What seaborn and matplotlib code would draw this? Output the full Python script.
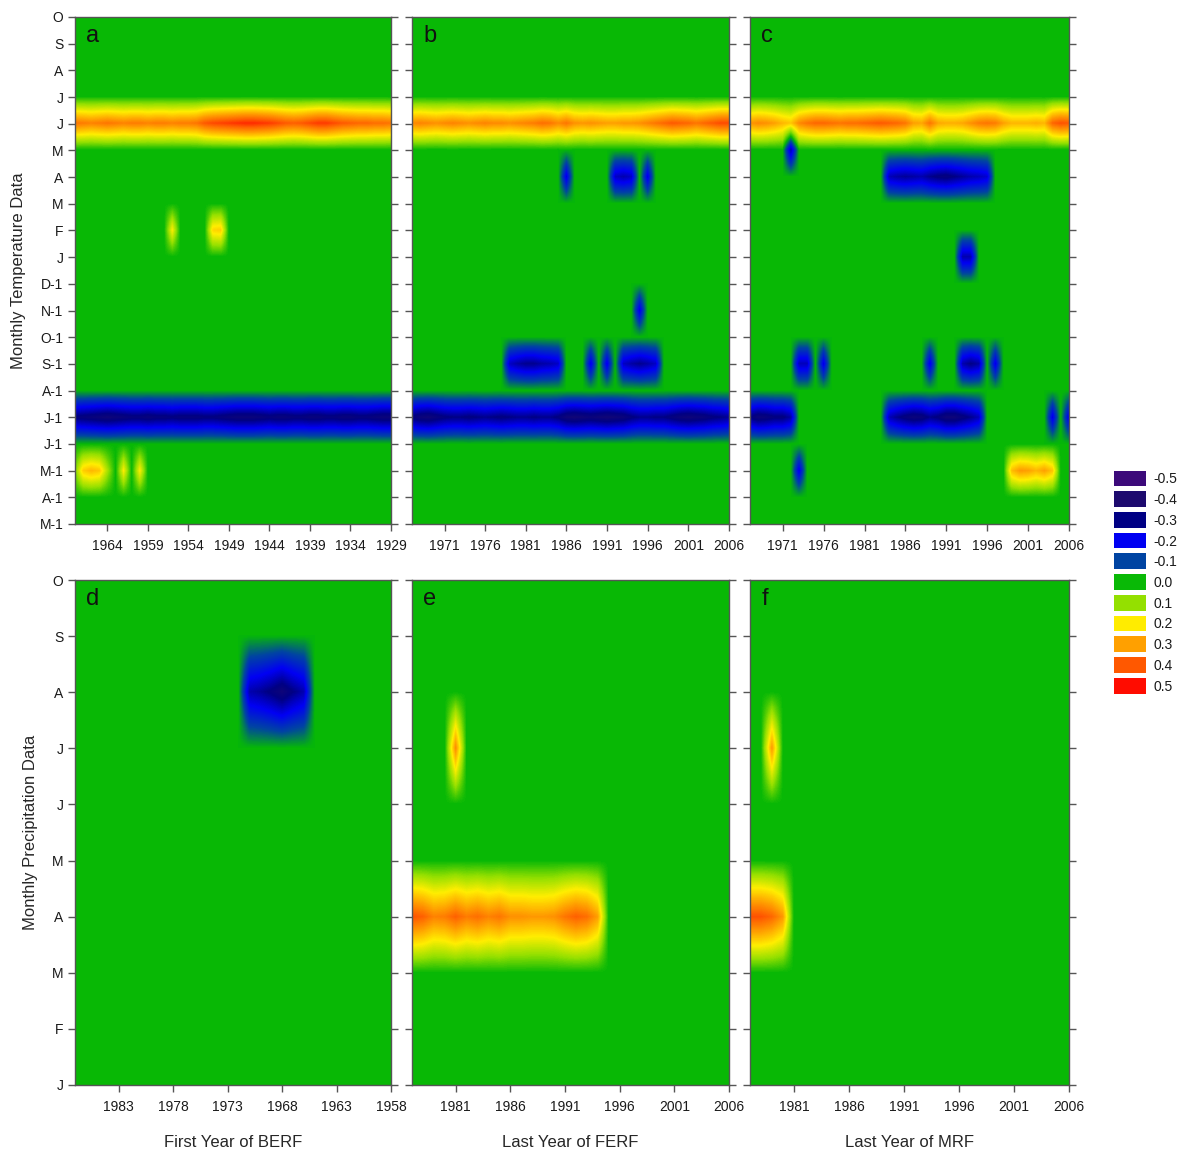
import numpy as np
import matplotlib
matplotlib.use("Agg")
import matplotlib.pyplot as plt
import seaborn as sns

# ---------------------------------------------------------------- labels
TEMP_MONTHS = ["M-1", "A-1", "M-1", "J-1", "J-1", "A-1", "S-1", "O-1", "N-1", "D-1",
               "J", "F", "M", "A", "M", "J", "J", "A", "S", "O"]
PREC_MONTHS = ["J", "F", "M", "A", "M", "J", "J", "A", "S", "O"]

LEVELS = [-0.5, -0.4, -0.3, -0.2, -0.1, 0.0, 0.1, 0.2, 0.3, 0.4, 0.5]
LEVEL_COLORS = ["#3c0a7a", "#1c0a6e", "#000084", "#0000f4", "#0044a2", "#06b806",
                "#94e000", "#ffee00", "#ffa000", "#ff5a00", "#ff0c00"]

# ---------------------------------------------------------------- panel a (first year of BERF)
A_YEARS = (1929, 1968)
A_JUN = [0.36, 0.37, 0.37, 0.38, 0.38, 0.39, 0.40, 0.42, 0.44, 0.44,
         0.42, 0.40, 0.39, 0.40, 0.42, 0.44, 0.45, 0.46, 0.46, 0.45,
         0.44, 0.43, 0.42, 0.40, 0.36, 0.35, 0.35, 0.34, 0.35, 0.35,
         0.34, 0.35, 0.35, 0.34, 0.35, 0.36, 0.35, 0.34, 0.35, 0.36]
A_JUL1 = [-0.34, -0.34, -0.33, -0.32, -0.32, -0.33, -0.33, -0.32, -0.32, -0.33,
          -0.33, -0.32, -0.32, -0.33, -0.33, -0.32, -0.33, -0.34, -0.34, -0.34,
          -0.33, -0.32, -0.31, -0.31, -0.32, -0.32, -0.32, -0.31, -0.32, -0.32,
          -0.33, -0.32, -0.32, -0.33, -0.34, -0.35, -0.34, -0.33, -0.32, -0.31]
A_FEB = [(1950, [0.24, 0.23]), (1956, [0.20])]
A_MAR1 = [(1960, [0.20]), (1962, [0.20]), (1964, [0.12, 0.25, 0.27, 0.24, 0.08])]

# ---------------------------------------------------------------- panel b (last year of FERF)
B_YEARS = (1967, 2006)
B_JUN = [0.33, 0.34, 0.33, 0.32, 0.33, 0.34, 0.33, 0.32, 0.33, 0.34,
         0.33, 0.33, 0.32, 0.33, 0.34, 0.35, 0.37, 0.36, 0.33, 0.36,
         0.32, 0.31, 0.32, 0.31, 0.30, 0.30, 0.31, 0.31, 0.32, 0.34,
         0.36, 0.38, 0.40, 0.39, 0.38, 0.36, 0.38, 0.40, 0.42, 0.42]
B_JUL1 = [-0.31, -0.34, -0.35, -0.33, -0.31, -0.30, -0.30, -0.31, -0.30, -0.29,
          -0.30, -0.31, -0.30, -0.29, -0.29, -0.30, -0.29, -0.29, -0.31, -0.35,
          -0.36, -0.35, -0.34, -0.35, -0.36, -0.35, -0.34, -0.31, -0.29, -0.29,
          -0.30, -0.30, -0.32, -0.34, -0.35, -0.34, -0.33, -0.31, -0.30, -0.28]
B_APR = [(1986, [-0.22]), (1992, [-0.24, -0.26, -0.24]), (1996, [-0.22])]
B_NOV1 = [(1995, [-0.22])]
B_SEP1 = [(1979, [-0.24, -0.27, -0.29, -0.29, -0.27, -0.26, -0.24]),
          (1989, [-0.22]), (1991, [-0.22]),
          (1993, [-0.24, -0.27, -0.29, -0.27, -0.24])]

# ---------------------------------------------------------------- panel c (last year of MRF)
C_YEARS = (1967, 2006)
C_JUN = [0.31, 0.33, 0.32, 0.30, 0.27, 0.25, 0.33, 0.36, 0.38, 0.38,
         0.37, 0.36, 0.37, 0.37, 0.38, 0.39, 0.40, 0.39, 0.38, 0.36,
         0.30, 0.29, 0.36, 0.29, 0.28, 0.28, 0.29, 0.32, 0.35, 0.36,
         0.35, 0.30, 0.27, 0.27, 0.27, 0.28, 0.27, 0.38, 0.41, 0.40]
C_MAY = [(1972, [-0.26])]
C_APR = [(1984, [-0.25, -0.27, -0.28, -0.27, -0.26, -0.29, -0.31, -0.32,
                 -0.30, -0.28, -0.26, -0.25, -0.23])]
C_JAN = [(1993, [-0.26, -0.26])]
C_SEP1 = [(1973, [-0.25, -0.25]), (1976, [-0.22]), (1989, [-0.22]),
          (1993, [-0.26, -0.30, -0.27]), (1997, [-0.22])]
C_JUL1 = [(1967, [-0.30, -0.34, -0.33, -0.31, -0.31, -0.27]),
          (1984, [-0.25, -0.29, -0.32, -0.34, -0.33, -0.29, -0.31, -0.35,
                  -0.35, -0.32, -0.29, -0.25]),
          (2004, [-0.22]), (2006, [-0.22])]
C_MAR1 = [(1973, [-0.22]), (1999, [0.26, 0.31, 0.30, 0.27, 0.30, 0.25])]

# ---------------------------------------------------------------- panel d (first year of BERF, precipitation)
D_YEARS = (1958, 1987)
D_AUG = [(1966, [-0.26, -0.30, -0.35, -0.31, -0.28, -0.26])]

# ---------------------------------------------------------------- panel e (last year of FERF, precipitation)
E_YEARS = (1977, 2006)
E_JUL = [(1981, [0.33])]
E_APR = [(1977, [0.41, 0.39, 0.34, 0.35, 0.39, 0.35, 0.37, 0.34, 0.36, 0.32,
                 0.32, 0.31, 0.31, 0.32, 0.36, 0.39, 0.37, 0.30])]

# ---------------------------------------------------------------- panel f (last year of MRF, precipitation)
F_YEARS = (1977, 2006)
F_JUL = [(1979, [0.31])]
F_APR = [(1977, [0.41, 0.41, 0.38, 0.31])]

# ---------------------------------------------------------------- style
sns.set_style("ticks")
plt.rcParams["font.family"] = ["Liberation Sans", "DejaVu Sans"]
plt.rcParams["axes.edgecolor"] = "#555555"
plt.rcParams["xtick.color"] = "#555555"
plt.rcParams["ytick.color"] = "#555555"
plt.rcParams["xtick.labelcolor"] = "#1a1a1a"
plt.rcParams["ytick.labelcolor"] = "#1a1a1a"

cmap = sns.blend_palette(LEVEL_COLORS, as_cmap=True)

W, H = 1179, 1154
fig = plt.figure(figsize=(W / 100, H / 100), dpi=100)


def rect(x0, x1, y0, y1):
    return [x0 / W, 1 - y1 / H, (x1 - x0) / W, (y1 - y0) / H]


def draw_field(ax, years, n_rows, rows, reverse, xticks, letter, ylabels=None):
    first, last = years
    z = np.zeros((n_rows, last - first + 1))
    for r, segs in rows.items():
        for start, vals in segs:
            i = start - first
            z[r, i:i + len(vals)] = vals
    ax.imshow(z, cmap=cmap, vmin=-0.5, vmax=0.5, origin="lower", aspect="auto",
              interpolation="bilinear", interpolation_stage="data",
              extent=(first - 0.5, last + 0.5, -0.5, n_rows - 0.5))
    ax.set_xlim((last, first) if reverse else (first, last))
    ax.set_ylim(0, n_rows - 1)
    ax.set_yticks(range(n_rows))
    if ylabels is not None:
        ax.set_yticklabels(ylabels, fontsize=10)
    else:
        ax.set_yticklabels([])
    ax.set_xticks(xticks)
    ax.set_xticklabels([str(x) for x in xticks], fontsize=10)
    ax.tick_params(axis="y", left=True, right=True, direction="out", length=5, width=1)
    ax.tick_params(axis="x", bottom=True, top=False, direction="out", length=5, width=1,
                   pad=6)
    for s in ax.spines.values():
        s.set_visible(True)
        s.set_linewidth(1.0)
    ax.text(0.035, 0.985, letter, transform=ax.transAxes, ha="left", va="top",
            fontsize=17, color="#111111")


# top row: temperature
ax_a = fig.add_axes(rect(75, 391, 17, 524))
draw_field(ax_a, A_YEARS, 20, {15: [(1929, A_JUN)], 4: [(1929, A_JUL1)], 11: A_FEB, 2: A_MAR1},
           True, list(range(1964, 1928, -5)), "a", TEMP_MONTHS)
ax_a.set_ylabel("Monthly Temperature Data", fontsize=12, labelpad=10)

ax_b = fig.add_axes(rect(412, 729, 17, 524))
draw_field(ax_b, B_YEARS, 20, {15: [(1967, B_JUN)], 4: [(1967, B_JUL1)], 13: B_APR,
                               8: B_NOV1, 6: B_SEP1},
           False, list(range(1971, 2007, 5)), "b")

ax_c = fig.add_axes(rect(750, 1069, 17, 524))
draw_field(ax_c, C_YEARS, 20, {15: [(1967, C_JUN)], 14: C_MAY, 13: C_APR, 10: C_JAN,
                               6: C_SEP1, 4: C_JUL1, 2: C_MAR1},
           False, list(range(1971, 2007, 5)), "c")

# bottom row: precipitation
ax_d = fig.add_axes(rect(75, 391, 580, 1085))
draw_field(ax_d, D_YEARS, 10, {7: D_AUG}, True, list(range(1983, 1957, -5)), "d", PREC_MONTHS)
ax_d.set_ylabel("Monthly Precipitation Data", fontsize=12, labelpad=10)
ax_d.set_xlabel("First Year of BERF", fontsize=12, labelpad=15)

ax_e = fig.add_axes(rect(412, 729, 580, 1085))
draw_field(ax_e, E_YEARS, 10, {6: E_JUL, 3: E_APR}, False, list(range(1981, 2007, 5)), "e")
ax_e.set_xlabel("Last Year of FERF", fontsize=12, labelpad=15)

ax_f = fig.add_axes(rect(750, 1069, 580, 1085))
draw_field(ax_f, F_YEARS, 10, {6: F_JUL, 3: F_APR}, False, list(range(1981, 2007, 5)), "f")
ax_f.set_xlabel("Last Year of MRF", fontsize=12, labelpad=15)

# colour key
ax_k = fig.add_axes(rect(1110.5, 1147.5, 467.5, 695.5))
sns.heatmap(np.array(LEVELS).reshape(-1, 1), ax=ax_k, cmap=cmap, vmin=-0.5, vmax=0.5,
            cbar=False, linewidths=3.6, linecolor="white", xticklabels=False,
            yticklabels=[f"{v:.1f}" for v in LEVELS])
ax_k.yaxis.tick_right()
ax_k.tick_params(axis="y", length=0, pad=4, labelsize=10, rotation=0)
for s in ax_k.spines.values():
    s.set_visible(False)

fig.savefig("out.png", dpi=100, facecolor="white")
